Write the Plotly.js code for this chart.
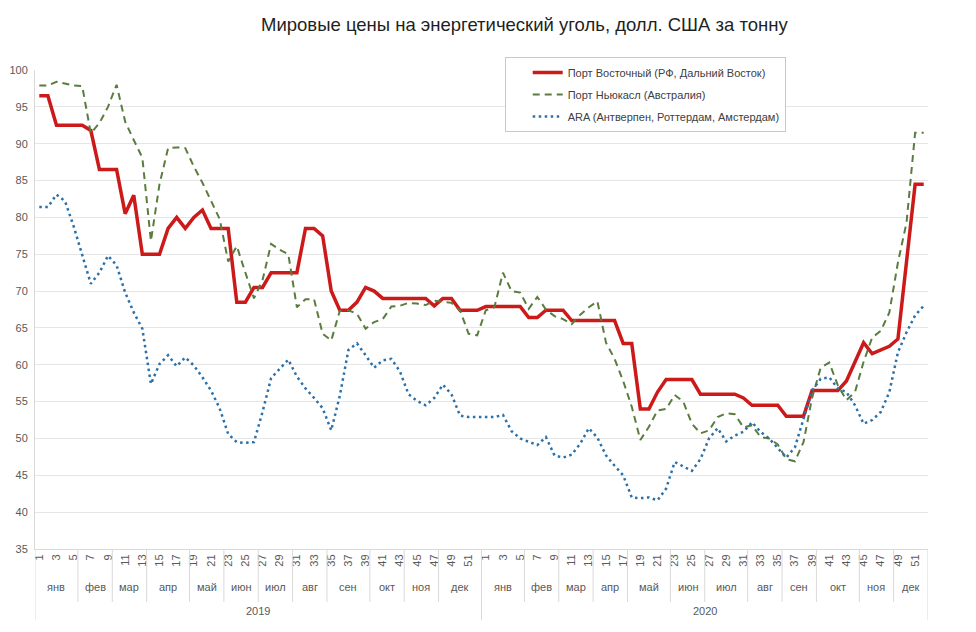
<!DOCTYPE html>
<html><head><meta charset="utf-8">
<script src="https://cdn.plot.ly/plotly-3.0.1.min.js"></script>
<style>html,body{margin:0;padding:0;background:#fff;} #chart{width:976px;height:632px;}</style>
</head><body><div id="chart"></div>
<script>
// ---- categories ----
const years = ['2019', '2020'];
const months = ['янв','фев','мар','апр','май','июн','июл','авг','сен','окт','ноя','дек'];
const weeksPerMonth2019 = [5,4,4,5,4,4,4,4,5,4,4,5];
const weeksPerMonth2020 = [5,4,4,4,5,4,5,4,4,5,4,4];

// ---- series (USD per tonne, weekly) ----
const vostochny2019 = [96.5,96.5,92.5,92.5,92.5,92.5,91.8,86.5,86.5,86.5,
  80.5,83.0,75.0,75.0,75.0,78.5,80.0,78.5,80.0,81.0,
  78.5,78.5,78.5,68.5,68.5,70.5,70.5,72.5,72.5,72.5,
  72.5,78.5,78.5,77.5,70.0,67.4,67.4,68.5,70.5,70.0,
  69.0,69.0,69.0,69.0,69.0,69.0,68.0,69.0,69.0,67.4,
  67.4,67.4];
const vostochny2020 = [67.9,67.9,67.9,67.9,67.9,66.4,66.4,67.4,67.4,67.4,
  66.0,66.0,66.0,66.0,66.0,66.0,62.9,62.9,54.0,54.0,
  56.3,58.0,58.0,58.0,58.0,56.0,56.0,56.0,56.0,56.0,
  55.5,54.5,54.5,54.5,54.5,53.0,53.0,53.0,56.5,56.5,
  56.5,56.5,57.8,60.3,63.0,61.5,62.0,62.5,63.5,74.0,
  84.5,84.5];
const newcastle2019 = [97.9,97.9,98.4,98.1,97.9,97.8,91.4,92.8,95.0,98.0,
  93.0,90.5,88.1,76.8,84.5,89.4,89.5,89.4,86.9,84.7,
  82.2,79.8,74.0,76.1,72.5,69.0,71.5,76.4,75.6,75.0,
  67.8,68.9,68.9,64.2,63.3,67.3,67.4,66.9,64.9,65.8,
  66.2,67.9,68.0,68.4,68.3,68.1,68.7,68.5,68.4,67.4,
  64.2,64.0];
const newcastle2020 = [67.4,67.8,72.5,70.0,69.8,67.6,69.2,67.5,66.6,66.2,
  65.5,66.8,67.8,68.6,63.0,60.8,57.8,54.3,49.8,51.6,
  53.8,54.0,55.9,55.0,52.0,50.7,51.1,52.9,53.4,53.3,
  51.5,51.8,50.2,50.0,49.2,47.2,46.9,49.5,55.5,59.6,
  60.3,57.2,55.2,56.3,60.4,63.7,64.6,67.1,73.9,79.3,
  91.5,91.5];
const ara2019 = [81.4,81.4,83.1,82.2,78.8,74.8,71.0,72.5,74.8,73.5,
  69.8,67.1,64.9,57.4,60.1,61.3,59.8,61.0,59.9,58.3,
  56.5,54.1,50.6,49.5,49.4,49.5,53.6,58.2,59.4,60.7,
  58.4,56.8,55.5,54.1,51.1,55.8,62.0,62.9,61.3,59.6,
  60.6,60.8,59.1,56.0,55.1,54.5,55.5,57.3,56.0,53.1,
  52.9,52.9];
const ara2020 = [52.9,52.9,53.2,51.0,50.0,49.6,49.1,50.2,47.7,47.4,
  47.8,49.3,51.4,50.1,47.7,46.3,45.0,42.0,41.9,42.0,
  41.6,43.2,46.8,46.2,45.6,47.2,50.0,51.4,49.6,50.4,
  50.9,52.2,50.9,50.0,48.7,47.4,48.8,52.8,56.5,58.1,
  58.3,56.8,56.3,54.5,52.0,52.5,53.6,56.3,61.7,64.4,
  66.7,68.0];

const seriesNames = ['Порт Восточный (РФ, Дальний Восток)', 'Порт Ньюкасл (Австралия)', 'ARA (Антверпен, Роттердам, Амстердам)'];
const titleText = 'Мировые цены на энергетический уголь, долл. США за тонну';

// ---- build category positions ----
const monthCounts = [weeksPerMonth2019, weeksPerMonth2020];
const xIdx = [], tickVals = [], tickText = [];
const monthAnn = [], yearAnn = [], monthSep = [], yearSep = [];
let pos = 0;
monthCounts.forEach((counts, yi) => {
  const yStart = pos;
  let wk = 0;
  counts.forEach((c, mi) => {
    const mStart = pos;
    for (let k = 0; k < c; k++) {
      wk++;
      xIdx.push(pos);
      if (wk % 2 === 1) { tickVals.push(pos); tickText.push(String(wk)); }
      pos++;
    }
    monthAnn.push({ x: (mStart + pos - 1) / 2, text: months[mi] });
    if (mi !== counts.length - 1) monthSep.push(pos - 0.5);
  });
  yearAnn.push({ x: (yStart + pos - 1) / 2, text: years[yi] });
  yearSep.push(yStart - 0.5);
});
yearSep.push(pos - 0.5);

const red = vostochny2019.concat(vostochny2020);
const green = newcastle2019.concat(newcastle2020);
const blue = ara2019.concat(ara2020);

const FONT = 'Liberation Sans, Arial, sans-serif';
const GREY = '#595959';

const traces = [
  { x: xIdx, y: red, name: seriesNames[0], mode: 'lines', legendgroup: 'a',
    line: { color: '#cc1a1a', width: 3.5 } },
  { x: xIdx, y: green, name: seriesNames[1], mode: 'lines', legendgroup: 'b',
    line: { color: '#5a7d3f', width: 2, dash: '7px,5px' } },
  { x: xIdx, y: blue, name: seriesNames[2], mode: 'lines', legendgroup: 'c',
    line: { color: '#2b70a8', width: 2.5, dash: '2.5px,3.5px' } }
];

// pixel helpers for below-axis elements (plot height = 632-70-83 = 479)
const PH = 479;
const py = px => -px / PH;

const annotations = [];
monthAnn.forEach(m => annotations.push({ x: m.x, xref: 'x', y: py(38), yref: 'paper', text: m.text,
  showarrow: false, yanchor: 'middle', xanchor: 'center', font: { family: FONT, size: 11, color: GREY } }));
yearAnn.forEach(m => annotations.push({ x: m.x, xref: 'x', y: py(62), yref: 'paper', text: m.text,
  showarrow: false, yanchor: 'middle', xanchor: 'center', font: { family: FONT, size: 11, color: GREY } }));

const shapes = [];
monthSep.forEach(v => shapes.push({ type: 'line', xref: 'x', yref: 'paper', x0: v, x1: v, y0: 0, y1: py(53),
  line: { color: '#d9d9d9', width: 1 } }));
yearSep.forEach(v => shapes.push({ type: 'line', xref: 'x', yref: 'paper', x0: v, x1: v, y0: 0, y1: py(71),
  line: { color: '#d9d9d9', width: 1 } }));

const layout = {
  width: 976, height: 632,
  margin: { l: 35, r: 48, t: 70, b: 83 },
  paper_bgcolor: '#ffffff', plot_bgcolor: '#ffffff',
  font: { family: FONT, size: 11, color: GREY },
  title: { text: titleText, x: 0.548, xref: 'paper', xanchor: 'center', y: 1 - 25 / 632, yref: 'container', yanchor: 'middle',
    font: { family: FONT, size: 18.5, color: '#1f1f1f' } },
  xaxis: {
    type: 'linear', range: [-0.5, pos - 0.5], tickmode: 'array', tickvals: tickVals, ticktext: tickText,
    tickangle: -90, showgrid: false, zeroline: false, showline: true, linecolor: '#d9d9d9', linewidth: 1,
    ticks: '', tickfont: { family: FONT, size: 11, color: GREY }, fixedrange: true
  },
  yaxis: {
    range: [35, 100], dtick: 5, tick0: 35, showgrid: true, gridcolor: '#e6e6e6', gridwidth: 1, zeroline: false,
    showline: true, linecolor: '#d9d9d9', ticks: '', ticklabelstandoff: 4,
    tickfont: { family: FONT, size: 11, color: GREY }, fixedrange: true
  },
  showlegend: true,
  legend: {
    x: 0.526, y: 1.027, xanchor: 'left', yanchor: 'top', xref: 'paper', yref: 'paper',
    bgcolor: '#ffffff', bordercolor: '#c8c8c8', borderwidth: 1,
    font: { family: FONT, size: 11, color: '#404040' }, tracegroupgap: 3, indentation: 22
  },
  annotations: annotations,
  shapes: shapes
};

Plotly.newPlot('chart', traces, layout, { displayModeBar: false, staticPlot: true });
</script>
</body></html>
